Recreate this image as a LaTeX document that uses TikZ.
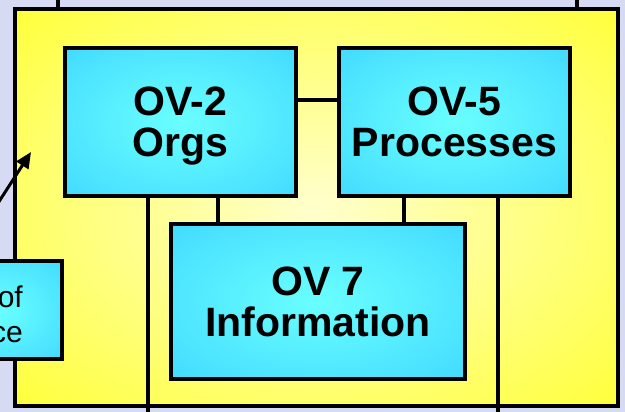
\documentclass[tikz,border=0pt]{standalone}
\usepackage{fontspec}
\setmainfont{Liberation Sans}
\usetikzlibrary{arrows.meta}

\definecolor{bgviolet}{RGB}{214,218,242}
\definecolor{panelin}{RGB}{255,255,205}
\definecolor{panelout}{RGB}{255,255,8}
\definecolor{boxin}{RGB}{105,255,255}
\definecolor{boxout}{RGB}{51,204,255}

% soft radial glows, full edge colour reached at the side midpoints
\pgfdeclareradialshading{panelglow}{\pgfpoint{0bp}{0bp}}{%
  color(0bp)=(panelin); color(48bp)=(panelout); color(100bp)=(panelout)}
\pgfdeclareradialshading{boxglow}{\pgfpoint{0bp}{0bp}}{%
  color(0bp)=(boxin); color(50bp)=(boxout); color(100bp)=(boxout)}

\tikzset{
  x=1pt, y=-1pt,
  panel/.style={draw=black, line width=3.5pt, shading=panelglow,
    rectangle, inner sep=0pt},
  viewbox/.style={draw=black, line width=3.5pt, shading=boxglow,
    rectangle, inner sep=0pt, align=center, text depth=0pt,
    font=\bfseries\fontsize{41}{41}\selectfont},
  link/.style={draw=black, line width=3.5pt},
  pointer/.style={draw=black, line width=3pt,
    -{Triangle[length=16pt,width=14pt]}},
}

\begin{document}
\begin{tikzpicture}
  \useasboundingbox (0,0) rectangle (625,412);
  \clip (0,0) rectangle (625,412);
  \fill[bgviolet] (0,0) rectangle (625,412);

  % links leaving the top of the panel
  \coordinate (topl) at (58,-5);
  \coordinate (topr) at (577,-5);

  % yellow panel
  \node[panel, minimum width=603pt, minimum height=397pt] (frame) at (316.5,207.5) {};

  \draw[link] (topl) -- (topl |- frame.north);
  \draw[link] (topr) -- (topr |- frame.north);

  % operational views
  \node[viewbox, minimum width=231pt, minimum height=148pt] (ov2) at (180.5,122) {OV-2\\Orgs};
  \node[viewbox, minimum width=231pt, minimum height=148pt] (ov5) at (454.5,122) {OV-5\\Processes};
  \node[viewbox, minimum width=294pt, minimum height=155pt] (ov7) at (318,301.5) {OV 7\\Information};

  % connecting lines
  \coordinate (mid) at (0,100);
  \coordinate (dl) at (218,0);
  \coordinate (dr) at (404,0);
  \coordinate (bl) at (148,420);
  \coordinate (br) at (498,420);
  \draw[link] (ov2.east |- mid) -- (ov5.west |- mid);
  \draw[link] (ov2.south -| dl) -- (ov7.north -| dl);
  \draw[link] (ov5.south -| dr) -- (ov7.north -| dr);
  \draw[link] (ov2.south -| bl) -- (bl);
  \draw[link] (ov5.south -| br) -- (br);

  % box at the left edge
  \node[draw=black, line width=3.5pt, shading=boxglow, rectangle, inner sep=0pt,
        minimum width=122pt, minimum height=98pt] (scope) at (1,310) {};
  \node[anchor=north east, inner sep=0pt, align=right,
        font=\fontsize{30}{35}\selectfont] (scopetext) at (23,286) {of\\ce};

  % pointer into the panel
  \coordinate (ptail) at (-10,215.5);
  \coordinate (phead) at (31,152);
  \draw[pointer] (ptail) -- (phead);
\end{tikzpicture}
\end{document}
